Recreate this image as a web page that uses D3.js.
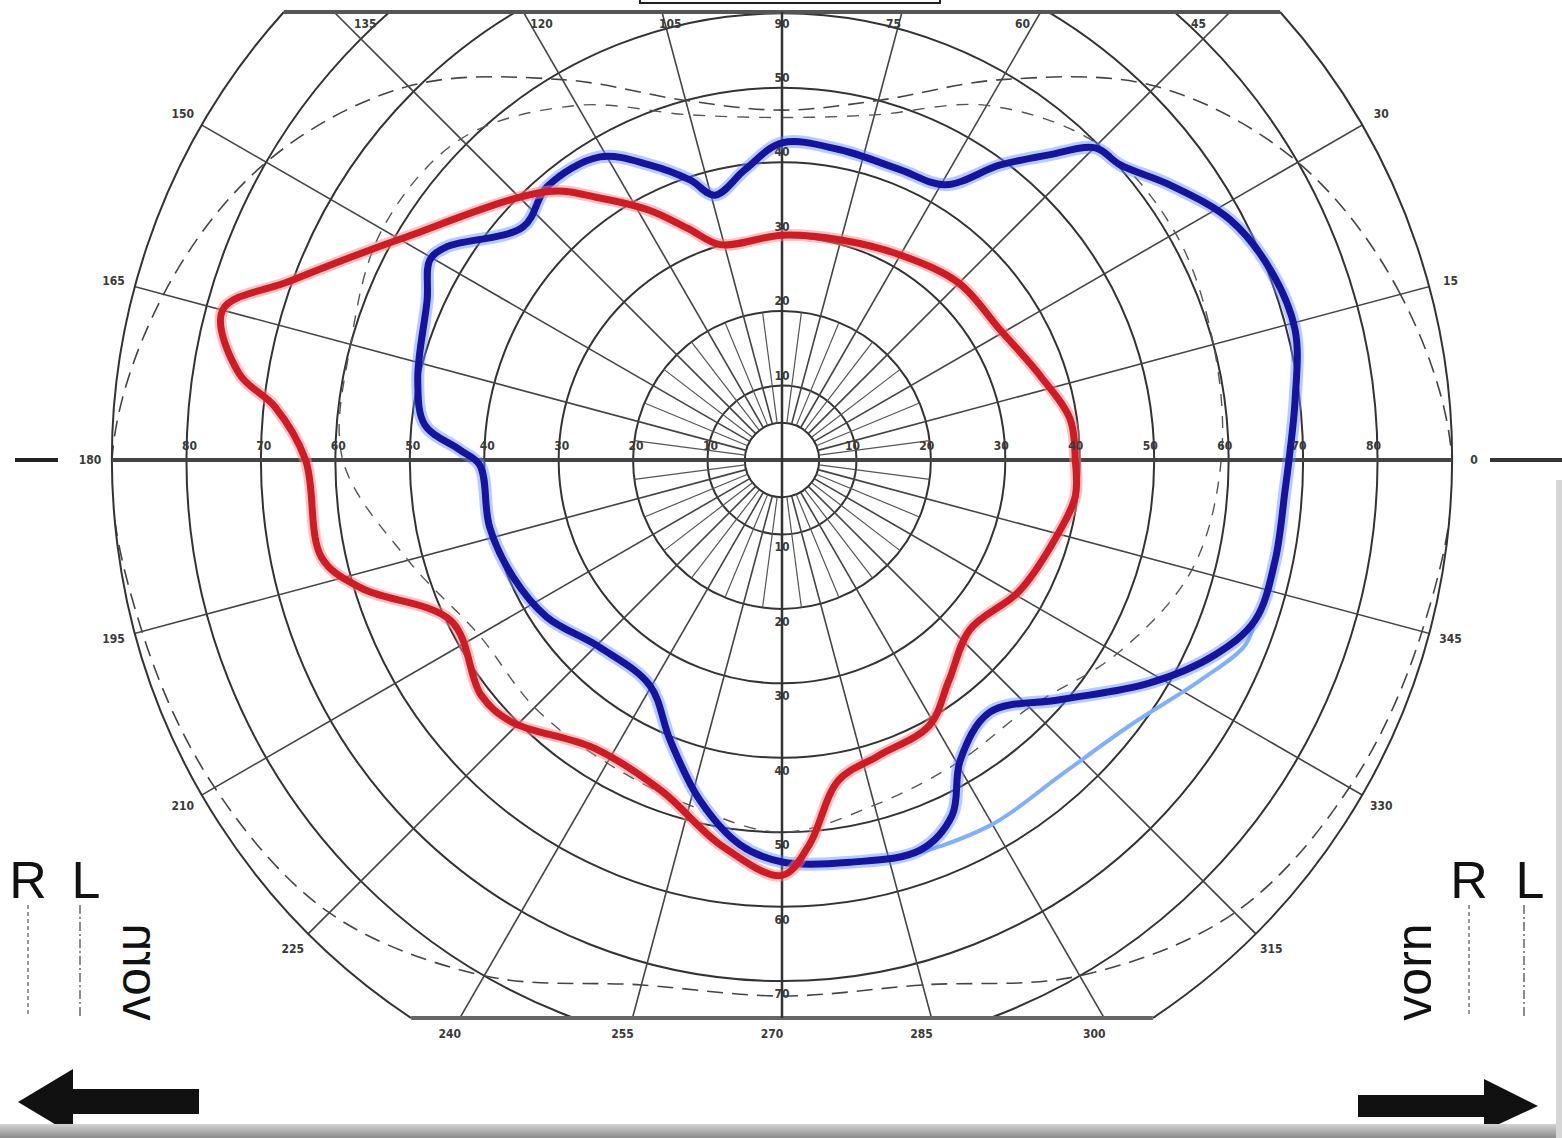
<!DOCTYPE html>
<html>
<head>
<meta charset="utf-8">
<script src="https://cdn.jsdelivr.net/npm/d3@7"></script>
<style>
  body { margin: 0; background: #fff; }
  svg { display: block; }
  .lbl { font-family: "Liberation Sans Narrow", "DejaVu Sans Condensed", sans-serif; font-weight: bold; font-size: 12px; fill: #3a3a3a; }
  .big { font-family: "Liberation Sans", Arial, sans-serif; fill: #111; }
</style>
</head>
<body>
<script>
// field of view chart, eccentricity in degrees, meridian angle in degrees (0 = right, counter clockwise)
var ringDegs = [5, 10, 20, 30, 40, 50, 60, 70, 80]
var ringLabels = [10, 20, 30, 40, 50, 60, 70, 80]
var meridians = [0, 15, 30, 45, 60, 75, 90, 105, 120, 135, 150, 165, 180, 195, 210, 225, 240, 255, 270, 285, 300, 315, 330, 345]

var redAngle = [0, 8, 18, 31, 45, 60, 75, 90, 106, 112, 118, 125, 131, 150, 160, 165, 171, 174, 180, 192, 197, 206, 218, 224, 237, 250, 261, 270, 274, 280, 288, 299, 307, 318, 331, 344, 353]
var redEcc = [39.4, 39.1, 36.5, 34.1, 33.6, 31.8, 30.6, 30.2, 30.1, 33.5, 38, 43, 47.8, 59.3, 70.3, 77.8, 73.8, 68.5, 64, 63.2, 59, 49.4, 51.3, 50.6, 46.2, 47.3, 52.4, 55.8, 51.9, 43.7, 41.8, 40.8, 37.2, 34, 36.4, 38.2, 39.7]

var blueAngle = [0, 6.7, 14.2, 21.3, 28.2, 35.3, 41.1, 44.9, 48.7, 53.5, 59.3, 67.9, 79.4, 90, 97.3, 104.2, 108.2, 114.1, 121, 130.7, 138, 147.6, 150.4, 155.7, 167.6, 174.4, 178.2, 181, 192.9, 203.5, 213.7, 225.8, 239.6, 248.2, 256.4, 263.8, 270, 279.6, 289.5, 295.6, 300.7, 309.5, 319.2, 328.8, 335.8, 341.3, 348.5, 356.6]
var blueEcc = [68.1, 69.4, 71.1, 70.4, 68.3, 63.9, 60.3, 59.4, 54.6, 49.3, 43, 42.1, 42.4, 42.6, 39.3, 36.7, 39.6, 43.4, 47.5, 48.4, 46.8, 53.4, 54.4, 52.3, 50.1, 48.2, 43.3, 40.6, 40.3, 39.4, 38, 35.1, 35.1, 40.5, 47, 52, 54, 54.8, 55.6, 52.9, 46.9, 43.9, 49.3, 57.8, 63.8, 67.1, 67.6, 67.7]

var lightAngle = [279.6, 286.6, 299.7, 311.4, 322.7, 332.2, 338.2, 341.3]
var lightEcc = [54.8, 55.7, 56.5, 56.5, 58.8, 63.5, 67, 67.1]

var normAngle = [0, 15, 30, 45, 60, 75, 90, 105, 120, 135, 150, 165, 180, 195, 210, 225, 240, 255, 270, 285, 300, 315, 330, 345]
var normOuter = [90, 86, 80, 71, 59, 50, 47, 50, 59, 71, 80, 86, 90, 89, 88, 86, 80, 73, 72, 73, 80, 86, 88, 89]
var normInner = [59, 60, 61, 60, 55, 48, 46, 48, 55, 61, 62, 60, 59, 52, 47, 47, 47, 48, 50, 48, 47, 47, 52, 57]

var W = 1562, H = 1138
var cx = 782, cy = 460
var R = 670, topY = 12, botY = 1018

var svg = d3.select("body").append("svg").attr("width", W).attr("height", H)

var rScale = d3.scaleLinear().domain([0, 90]).range([0, R])
var aScale = d3.scaleLinear().domain([0, 360]).range([Math.PI / 2, Math.PI / 2 - 2 * Math.PI])

// clip: circle cut by top and bottom lines
var defs = svg.append("defs")
defs.append("clipPath").attr("id", "cc").append("circle").attr("cx", cx).attr("cy", cy).attr("r", R)
defs.append("clipPath").attr("id", "cr").append("rect").attr("x", 0).attr("y", topY).attr("width", W).attr("height", botY - topY)

var outer = svg.append("g").attr("clip-path", "url(#cr)")
var chart = outer.append("g").attr("clip-path", "url(#cc)")
var g = chart.append("g").attr("transform", "translate(" + cx + "," + cy + ")")

// rings
g.selectAll("circle.ring").data(ringDegs).enter().append("circle")
  .attr("class", "ring")
  .attr("r", function(d) { return rScale(d) })
  .attr("fill", "none").attr("stroke", "#333").attr("stroke-width", 2)

// meridians
g.selectAll("line.mer").data(meridians.filter(function(d) { return d % 90 != 0 })).enter().append("line")
  .attr("x1", function(d) { return rScale(5) * Math.cos(d * Math.PI / 180) })
  .attr("y1", function(d) { return -rScale(5) * Math.sin(d * Math.PI / 180) })
  .attr("x2", function(d) { return rScale(110) * Math.cos(d * Math.PI / 180) })
  .attr("y2", function(d) { return -rScale(110) * Math.sin(d * Math.PI / 180) })
  .attr("stroke", "#444").attr("stroke-width", 1.6)

var minor = d3.range(7.5, 360, 15)
g.selectAll("line.minor").data(minor).enter().append("line")
  .attr("x1", function(d) { return rScale(5) * Math.cos(d * Math.PI / 180) })
  .attr("y1", function(d) { return -rScale(5) * Math.sin(d * Math.PI / 180) })
  .attr("x2", function(d) { return rScale(20) * Math.cos(d * Math.PI / 180) })
  .attr("y2", function(d) { return -rScale(20) * Math.sin(d * Math.PI / 180) })
  .attr("stroke", "#555").attr("stroke-width", 1.2)

// normal isopters, dashed
var normLine = d3.lineRadial()
  .angle(function(d) { return aScale(d.a) })
  .radius(function(d) { return rScale(d.e) })
  .curve(d3.curveCatmullRomClosed.alpha(0.5))

g.append("path").datum(normAngle.map(function(a, i) { return {a: a, e: normOuter[i]} }))
  .attr("d", normLine).attr("fill", "none").attr("stroke", "#444").attr("stroke-width", 1.6)
  .attr("stroke-dasharray", "16,9")
g.append("path").datum(normAngle.map(function(a, i) { return {a: a, e: normInner[i]} }))
  .attr("d", normLine).attr("fill", "none").attr("stroke", "#555").attr("stroke-width", 1.4)
  .attr("stroke-dasharray", "12,10")

// boundary outline
var xTop = Math.sqrt(R * R - (cy - topY) * (cy - topY))
var xBot = Math.sqrt(R * R - (botY - cy) * (botY - cy))
svg.append("path")
  .attr("d", "M" + (cx - xTop) + "," + topY + " A" + R + "," + R + " 0 0,0 " + (cx - xBot) + "," + botY +
    " M" + (cx + xTop) + "," + topY + " A" + R + "," + R + " 0 0,1 " + (cx + xBot) + "," + botY)
  .attr("fill", "none").attr("stroke", "#333").attr("stroke-width", 2)
svg.append("line").attr("x1", cx - xTop).attr("x2", cx + xTop).attr("y1", topY).attr("y2", topY)
  .attr("stroke", "#555").attr("stroke-width", 4)
svg.append("line").attr("x1", cx - xBot).attr("x2", cx + xBot).attr("y1", botY).attr("y2", botY)
  .attr("stroke", "#666").attr("stroke-width", 4)

// axes
svg.append("line").attr("x1", cx - R).attr("x2", cx + R).attr("y1", cy).attr("y2", cy)
  .attr("stroke", "#444").attr("stroke-width", 4)
svg.append("line").attr("x1", 15).attr("x2", 58).attr("y1", cy).attr("y2", cy)
  .attr("stroke", "#222").attr("stroke-width", 4)
svg.append("line").attr("x1", 1490).attr("x2", W).attr("y1", cy).attr("y2", cy)
  .attr("stroke", "#333").attr("stroke-width", 4)
svg.append("line").attr("x1", cx).attr("x2", cx).attr("y1", topY).attr("y2", botY)
  .attr("stroke", "#333").attr("stroke-width", 2.5)

// isopters
var iso = d3.lineRadial()
  .angle(function(d) { return aScale(d.a) })
  .radius(function(d) { return rScale(d.e) })
  .curve(d3.curveCatmullRomClosed.alpha(0.5))
var isoOpen = d3.lineRadial()
  .angle(function(d) { return aScale(d.a) })
  .radius(function(d) { return rScale(d.e) })
  .curve(d3.curveCatmullRom.alpha(0.5))

var redPts = redAngle.map(function(a, i) { return {a: a, e: redEcc[i]} })
var bluePts = blueAngle.map(function(a, i) { return {a: a, e: blueEcc[i]} })
var lightPts = lightAngle.map(function(a, i) { return {a: a, e: lightEcc[i]} })

var iso_g = svg.append("g").attr("transform", "translate(" + cx + "," + cy + ")")
iso_g.append("path").datum(lightPts).attr("d", isoOpen)
  .attr("fill", "none").attr("stroke", "#7fb0ff").attr("stroke-width", 4).attr("stroke-linecap", "round")
iso_g.append("path").datum(bluePts).attr("d", iso)
  .attr("fill", "none").attr("stroke", "#5f8cff").attr("stroke-opacity", 0.45).attr("stroke-width", 13)
iso_g.append("path").datum(bluePts).attr("d", iso)
  .attr("fill", "none").attr("stroke", "#1414a0").attr("stroke-width", 7).attr("stroke-linejoin", "round")
iso_g.append("path").datum(redPts).attr("d", iso)
  .attr("fill", "none").attr("stroke", "#f08a8a").attr("stroke-opacity", 0.5).attr("stroke-width", 12)
iso_g.append("path").datum(redPts).attr("d", iso)
  .attr("fill", "none").attr("stroke", "#d01a24").attr("stroke-width", 7).attr("stroke-linejoin", "round")

// ring labels along axes
var lab = svg.append("g")
ringLabels.forEach(function(d) {
  lab.append("text").attr("class", "lbl").attr("x", cx - rScale(d) + 3).attr("y", cy - 10)
    .attr("text-anchor", "middle").text(d)
  lab.append("text").attr("class", "lbl").attr("x", cx + rScale(d) - 4).attr("y", cy - 10)
    .attr("text-anchor", "middle").text(d)
  if (d <= 50) {
    lab.append("text").attr("class", "lbl").attr("x", cx).attr("y", cy - rScale(d) - 6)
      .attr("text-anchor", "middle").text(d)
  }
  if (d <= 70) {
    lab.append("text").attr("class", "lbl").attr("x", cx).attr("y", cy + rScale(d) + 17)
      .attr("text-anchor", "middle").text(d)
  }
})

// meridian labels
meridians.forEach(function(d) {
  var t = d * Math.PI / 180
  var s = Math.sin(t), c = Math.cos(t)
  var x, y
  if (s > 0 && R * s > cy - topY) {
    var ix = cx + (cy - topY) / Math.tan(t)
    x = ix + (cx - ix) * 0.07; y = topY + 16
  } else if (s < 0 && -R * s > botY - cy) {
    var ix2 = cx - (botY - cy) / Math.tan(t)
    x = ix2 - 10; y = botY + 20
  } else {
    x = cx + (R + 22) * c; y = cy - (R + 22) * s + 4
  }
  lab.append("text").attr("class", "lbl").attr("x", x).attr("y", y)
    .attr("text-anchor", "middle").text(d)
})

// top box fragment
svg.append("path").attr("d", "M640,-5 L640,3 L940,3 L940,-5")
  .attr("fill", "none").attr("stroke", "#222").attr("stroke-width", 2)

// side markers
function side(rx, lx, vx, mirror) {
  svg.append("text").attr("class", "big").attr("x", rx).attr("y", 898).attr("text-anchor", "middle")
    .attr("font-size", 52).text("R")
  svg.append("text").attr("class", "big").attr("x", lx).attr("y", 898).attr("text-anchor", "middle")
    .attr("font-size", 52).text("L")
  svg.append("line").attr("x1", rx).attr("x2", rx).attr("y1", 905).attr("y2", 1017)
    .attr("stroke", "#777").attr("stroke-width", 1.5).attr("stroke-dasharray", "4,3")
  svg.append("line").attr("x1", lx - 6).attr("x2", lx - 6).attr("y1", 905).attr("y2", 1017)
    .attr("stroke", "#666").attr("stroke-width", 1.5).attr("stroke-dasharray", "9,3,2,3")
  svg.append("text").attr("class", "big")
    .attr("transform", "translate(" + vx + ",972)" + (mirror ? " scale(-1,1)" : "") + " rotate(-90)")
    .attr("text-anchor", "middle").attr("dy", "0.35em").attr("font-size", 50).text("vorn")
}
side(28, 86, 140, true)
side(1469, 1530, 1413, false)

// arrows
svg.append("path").attr("d", "M18,1102 L73,1069 L73,1089 L199,1089 L199,1114 L73,1114 L73,1135 Z").attr("fill", "#111")
svg.append("path").attr("d", "M1538,1106 L1484,1079 L1484,1095 L1358,1095 L1358,1117 L1484,1117 L1484,1131 Z").attr("fill", "#111")

// scan borders
var grad = defs.append("linearGradient").attr("id", "gb").attr("x1", 0).attr("y1", 0).attr("x2", 0).attr("y2", 1)
grad.append("stop").attr("offset", 0).attr("stop-color", "#d4d4d4")
grad.append("stop").attr("offset", 1).attr("stop-color", "#8a8a8a")
svg.append("rect").attr("x", 0).attr("y", 1124).attr("width", W).attr("height", 14).attr("fill", "url(#gb)")
svg.append("rect").attr("x", 1556).attr("y", 480).attr("width", 6).attr("height", 660).attr("fill", "#d6d6d6")
</script>
</body>
</html>
